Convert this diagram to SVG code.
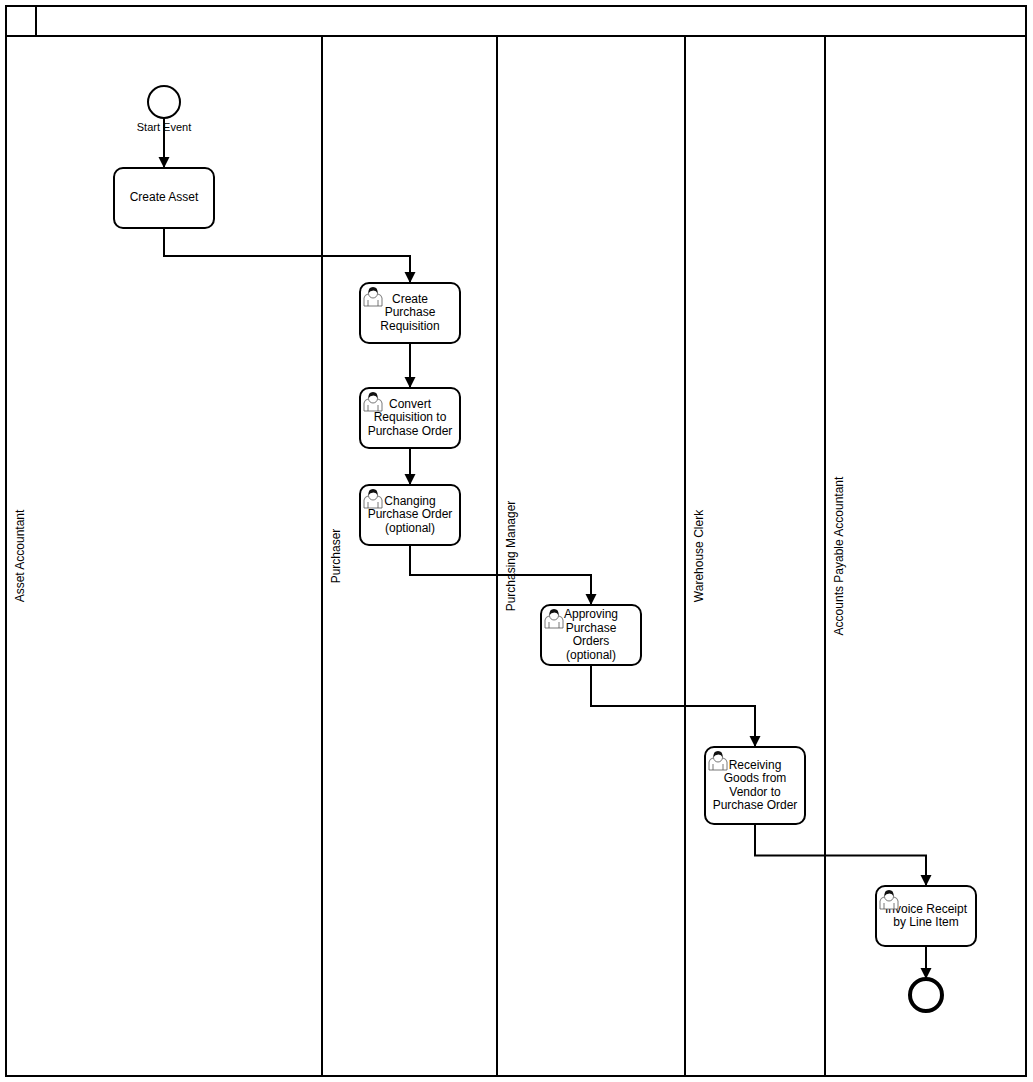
<svg xmlns="http://www.w3.org/2000/svg" xmlns:xlink="http://www.w3.org/1999/xlink" width="1033" height="1082" viewBox="0 0 1033 1082">
<style>
text{font-family:"Liberation Sans",Arial,sans-serif;font-size:12px;fill:#000;text-anchor:middle}
.pool{fill:#fff;stroke:#000;stroke-width:2}
.task{fill:#fff;stroke:#000;stroke-width:2}
.conn{fill:none;stroke:#000;stroke-width:2}
.uf{fill:#fff;stroke:#555;stroke-width:.8}
.uh{fill:#111;stroke:none}
</style>
<defs>
<marker id="arrow" markerUnits="userSpaceOnUse" markerWidth="12" markerHeight="12" refX="11" refY="5.5" orient="auto"><path d="M0 0L11 5.500L0 11Z" fill="#000"/></marker>
<g id="user">
<path class="uf" d="M0 19V11Q0 8 5 6.500H13Q18 8 18 11V19Z"/>
<path class="uf" d="M4 19V13M14 19V13"/>
<circle class="uf" cx="9" cy="6.500" r="4.500"/>
<path class="uh" d="M4.500 6Q4 0 9 0Q14 0 13.500 6Q12.500 3.500 9.500 3.500Q6 3.500 4.500 6Z"/>
</g>
</defs>
<rect width="1033" height="1082" fill="#fff"/>
<g id="pool">
<rect class="pool" x="6" y="6" width="1020" height="1070"/>
<path class="conn" d="M6 36H1026M36 6V36"/>
</g>
<g id="lane-asset-accountant"><path class="conn" d="M322 36V1076"/><text transform="translate(24 556) rotate(-90)">Asset Accountant</text></g>
<g id="lane-purchaser"><path class="conn" d="M497 36V1076"/><text transform="translate(340 556) rotate(-90)">Purchaser</text></g>
<g id="lane-purchasing-manager"><path class="conn" d="M685 36V1076"/><text transform="translate(515 556) rotate(-90)">Purchasing Manager</text></g>
<g id="lane-warehouse-clerk"><path class="conn" d="M825 36V1076"/><text transform="translate(703 556) rotate(-90)">Warehouse Clerk</text></g>
<g id="lane-accounts-payable"><text transform="translate(843 556) rotate(-90)">Accounts Payable Accountant</text></g>
<g id="connectors">
<path class="conn" marker-end="url(#arrow)" d="M164 118V168"/>
<path class="conn" marker-end="url(#arrow)" d="M164 228V256H410V283"/>
<path class="conn" marker-end="url(#arrow)" d="M410 343V388"/>
<path class="conn" marker-end="url(#arrow)" d="M410 448V485"/>
<path class="conn" marker-end="url(#arrow)" d="M410 545V575H591V605"/>
<path class="conn" marker-end="url(#arrow)" d="M591 665V706H755V747"/>
<path class="conn" marker-end="url(#arrow)" d="M755 824V855.500H926V886"/>
<path class="conn" marker-end="url(#arrow)" d="M926 946V979"/>
</g>
<g id="start-event"><circle cx="164" cy="102" r="16" fill="none" stroke="#000" stroke-width="2"/><text x="164" y="131" style="font-size:11px">Start Event</text></g>
<g id="create-asset"><rect class="task" x="114" y="168" width="100" height="60" rx="9"/><text x="164" y="201">Create Asset</text></g>
<g id="create-purchase-requisition"><rect class="task" x="360" y="283" width="100" height="60" rx="9"/><use xlink:href="#user" x="364" y="287"/><text x="410" y="303">Create</text><text x="410" y="316">Purchase</text><text x="410" y="330">Requisition</text></g>
<g id="convert-requisition"><rect class="task" x="360" y="388" width="100" height="60" rx="9"/><use xlink:href="#user" x="364" y="392"/><text x="410" y="408">Convert</text><text x="410" y="421">Requisition to</text><text x="410" y="435">Purchase Order</text></g>
<g id="changing-purchase-order"><rect class="task" x="360" y="485" width="100" height="60" rx="9"/><use xlink:href="#user" x="364" y="489"/><text x="410" y="505">Changing</text><text x="410" y="518">Purchase Order</text><text x="410" y="532">(optional)</text></g>
<g id="approving-purchase-orders"><rect class="task" x="541" y="605" width="100" height="60" rx="9"/><use xlink:href="#user" x="545" y="609"/><text x="591" y="618">Approving</text><text x="591" y="632">Purchase</text><text x="591" y="645">Orders</text><text x="591" y="659">(optional)</text></g>
<g id="receiving-goods"><rect class="task" x="705" y="747" width="100" height="77" rx="9"/><use xlink:href="#user" x="709" y="751"/><text x="755" y="769">Receiving</text><text x="755" y="782">Goods from</text><text x="755" y="796">Vendor to</text><text x="755" y="809">Purchase Order</text></g>
<g id="invoice-receipt"><rect class="task" x="876" y="886" width="100" height="60" rx="9"/><text x="926" y="913">Invoice Receipt</text><text x="926" y="926">by Line Item</text><use xlink:href="#user" x="880" y="890"/></g>
<g id="end-event"><circle cx="926" cy="995" r="16" fill="#fff" stroke="#000" stroke-width="4"/></g>
</svg>
